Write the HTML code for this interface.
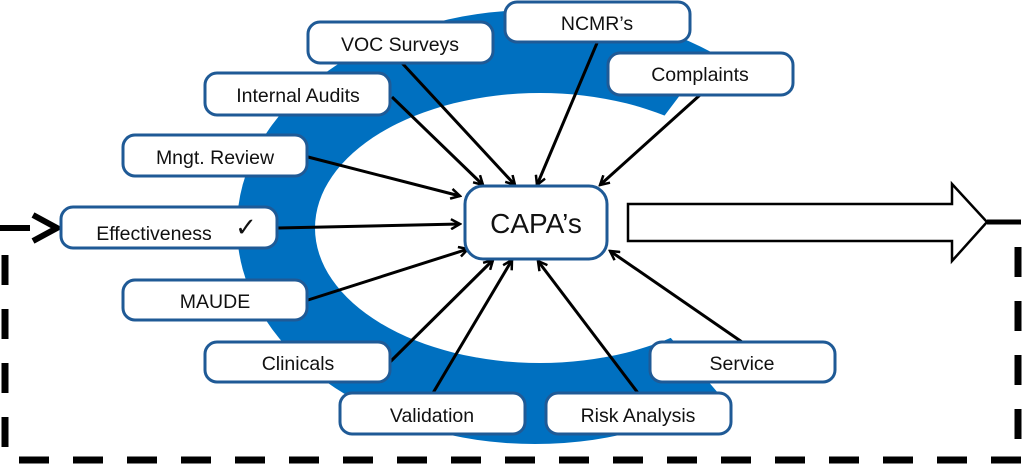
<!DOCTYPE html>
<html><head><meta charset="utf-8"><style>
html,body{margin:0;padding:0;background:#fff;width:1024px;height:465px;overflow:hidden}
text{font-family:"Liberation Sans",sans-serif;fill:#111}
</style></head><body>
<svg width="1024" height="465" viewBox="0 0 1024 465" xmlns="http://www.w3.org/2000/svg">
<defs>
<clipPath id="c"><polygon points="0,0 752,0 578,230 780,465 0,465"/></clipPath>
<mask id="m"><rect width="1024" height="465" fill="#fff"/><ellipse cx="540" cy="228" rx="225" ry="135" fill="#000"/></mask>
<marker id="a" markerWidth="12" markerHeight="12" refX="10" refY="6" orient="auto" markerUnits="userSpaceOnUse"><path d="M1,1 L10,6 L1,11" fill="none" stroke="#000" stroke-width="2.5"/></marker>
</defs>
<g clip-path="url(#c)"><ellipse cx="535" cy="227" rx="298" ry="217" fill="#0070c0" mask="url(#m)"/></g>

<g stroke="#000" stroke-width="7" fill="none" stroke-dasharray="30,24">
<line x1="1018" y1="247" x2="1018" y2="460"/>
<line x1="1021" y1="460" x2="0" y2="460"/>
<line x1="5" y1="255" x2="5" y2="460"/>
</g>
<line x1="0" y1="228" x2="30" y2="228" stroke="#000" stroke-width="6"/>
<path d="M33,215 L57,228 L33,241" fill="none" stroke="#000" stroke-width="6" stroke-linejoin="miter"/>
<line x1="987" y1="222" x2="1021" y2="222" stroke="#000" stroke-width="5"/>
<path d="M628,204 L952,204 L952,184 L987,222 L952,261 L952,241 L628,241 Z" fill="#fff" stroke="#000" stroke-width="2.5"/>

<g stroke="#000" stroke-width="3" marker-end="url(#a)">
<line x1="402" y1="63" x2="515" y2="185"/>
<line x1="392" y1="97" x2="483" y2="185"/>
<line x1="308" y1="157" x2="460" y2="196"/>
<line x1="278" y1="228" x2="460" y2="224"/>
<line x1="308" y1="300" x2="468" y2="249"/>
<line x1="390" y1="362" x2="493" y2="260"/>
<line x1="433" y1="393" x2="512" y2="260"/>
<line x1="638" y1="393" x2="538" y2="261"/>
<line x1="742" y1="342" x2="610" y2="251"/>
<line x1="597" y1="43" x2="537" y2="185"/>
<line x1="700" y1="95" x2="600" y2="185"/>
</g>

<g fill="#fff" stroke="#1f5a96" stroke-width="3">
<rect x="308" y="22" width="185" height="41" rx="12"/>
<rect x="505" y="2" width="185" height="40" rx="12"/>
<rect x="205" y="73" width="185" height="42" rx="12"/>
<rect x="608" y="53" width="185" height="42" rx="12"/>
<rect x="123" y="135" width="184" height="41" rx="12"/>
<rect x="61" y="207" width="216" height="41" rx="12"/>
<rect x="465" y="186" width="142" height="73" rx="18"/>
<rect x="123" y="280" width="184" height="40" rx="12"/>
<rect x="205" y="342" width="185" height="40" rx="12"/>
<rect x="340" y="393" width="185" height="41" rx="12"/>
<rect x="546" y="393" width="185" height="41" rx="12"/>
<rect x="650" y="342" width="185" height="40" rx="12"/>
</g>
<g font-size="19.5" text-anchor="middle">
<text x="400" y="51">VOC Surveys</text>
<text x="597" y="30">NCMR’s</text>
<text x="298" y="102">Internal Audits</text>
<text x="700" y="81">Complaints</text>
<text x="215" y="164">Mngt. Review</text>
<text x="154" y="240">Effectiveness</text>
<text x="246" y="236" font-size="26" font-family="DejaVu Sans">✓</text>
<text x="536" y="233" font-size="28">CAPA’s</text>
<text x="215" y="308">MAUDE</text>
<text x="298" y="370">Clinicals</text>
<text x="432" y="422">Validation</text>
<text x="638" y="422">Risk Analysis</text>
<text x="742" y="370">Service</text>
</g>
</svg>
</body></html>
